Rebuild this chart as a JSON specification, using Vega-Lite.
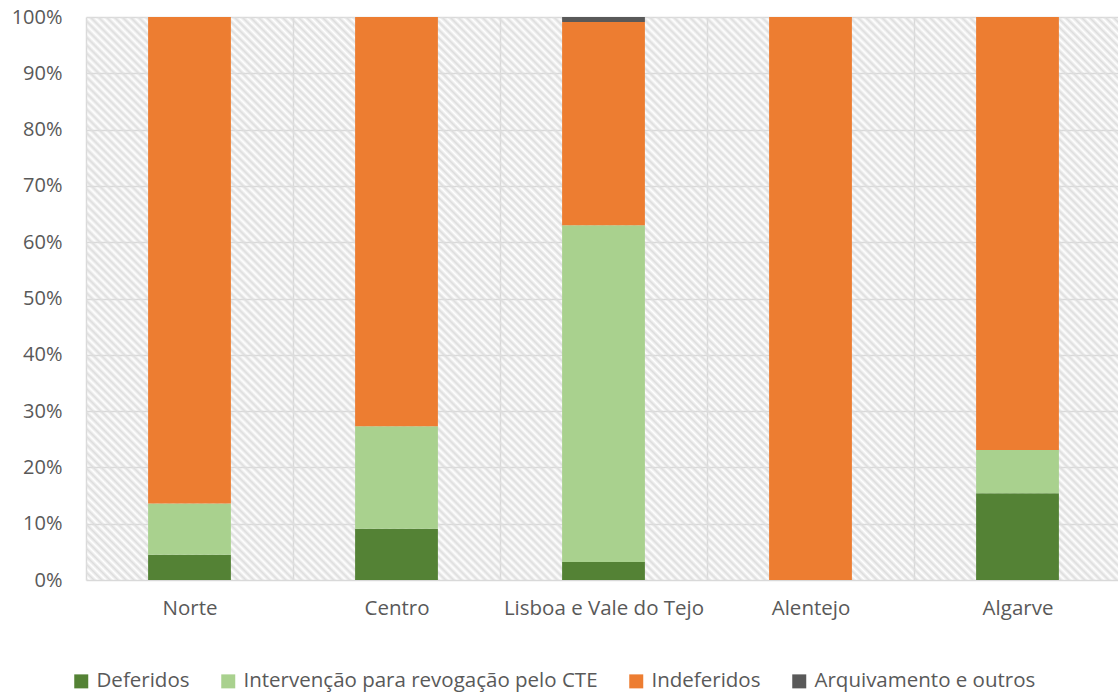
{
  "$schema": "https://vega.github.io/schema/vega-lite/v6.json",
  "width": 1035,
  "height": 563,
  "autosize": "none",
  "padding": {"left": 86, "top": 17, "right": 0, "bottom": 115},
  "background": "white",
  "config": {"view": {"stroke": null}, "font": "Open Sans"},
  "layer": [
    {
      "data": {"values": [{}]},
      "mark": {
        "type": "rect",
        "fill": {
          "gradient": "linear",
          "x1": 0, "y1": 1, "x2": 1.19143, "y2": 0.35191,
          "stops": [
{"offset":0,"color":"#dddddd"},{"offset":0.0025,"color":"rgba(221,221,221,0)"},{"offset":0.005,"color":"#dddddd"},{"offset":0.0075,"color":"rgba(221,221,221,0)"},
{"offset":0.01,"color":"#dddddd"},{"offset":0.0125,"color":"rgba(221,221,221,0)"},{"offset":0.015,"color":"#dddddd"},{"offset":0.0175,"color":"rgba(221,221,221,0)"},
{"offset":0.02,"color":"#dddddd"},{"offset":0.0225,"color":"rgba(221,221,221,0)"},{"offset":0.025,"color":"#dddddd"},{"offset":0.0275,"color":"rgba(221,221,221,0)"},
{"offset":0.03,"color":"#dddddd"},{"offset":0.0325,"color":"rgba(221,221,221,0)"},{"offset":0.035,"color":"#dddddd"},{"offset":0.0375,"color":"rgba(221,221,221,0)"},
{"offset":0.04,"color":"#dddddd"},{"offset":0.0425,"color":"rgba(221,221,221,0)"},{"offset":0.045,"color":"#dddddd"},{"offset":0.0475,"color":"rgba(221,221,221,0)"},
{"offset":0.05,"color":"#dddddd"},{"offset":0.0525,"color":"rgba(221,221,221,0)"},{"offset":0.055,"color":"#dddddd"},{"offset":0.0575,"color":"rgba(221,221,221,0)"},
{"offset":0.06,"color":"#dddddd"},{"offset":0.0625,"color":"rgba(221,221,221,0)"},{"offset":0.065,"color":"#dddddd"},{"offset":0.0675,"color":"rgba(221,221,221,0)"},
{"offset":0.07,"color":"#dddddd"},{"offset":0.0725,"color":"rgba(221,221,221,0)"},{"offset":0.075,"color":"#dddddd"},{"offset":0.0775,"color":"rgba(221,221,221,0)"},
{"offset":0.08,"color":"#dddddd"},{"offset":0.0825,"color":"rgba(221,221,221,0)"},{"offset":0.085,"color":"#dddddd"},{"offset":0.0875,"color":"rgba(221,221,221,0)"},
{"offset":0.09,"color":"#dddddd"},{"offset":0.0925,"color":"rgba(221,221,221,0)"},{"offset":0.095,"color":"#dddddd"},{"offset":0.0975,"color":"rgba(221,221,221,0)"},
{"offset":0.1,"color":"#dddddd"},{"offset":0.1025,"color":"rgba(221,221,221,0)"},{"offset":0.105,"color":"#dddddd"},{"offset":0.1075,"color":"rgba(221,221,221,0)"},
{"offset":0.11,"color":"#dddddd"},{"offset":0.1125,"color":"rgba(221,221,221,0)"},{"offset":0.115,"color":"#dddddd"},{"offset":0.1175,"color":"rgba(221,221,221,0)"},
{"offset":0.12,"color":"#dddddd"},{"offset":0.1225,"color":"rgba(221,221,221,0)"},{"offset":0.125,"color":"#dddddd"},{"offset":0.1275,"color":"rgba(221,221,221,0)"},
{"offset":0.13,"color":"#dddddd"},{"offset":0.1325,"color":"rgba(221,221,221,0)"},{"offset":0.135,"color":"#dddddd"},{"offset":0.1375,"color":"rgba(221,221,221,0)"},
{"offset":0.14,"color":"#dddddd"},{"offset":0.1425,"color":"rgba(221,221,221,0)"},{"offset":0.145,"color":"#dddddd"},{"offset":0.1475,"color":"rgba(221,221,221,0)"},
{"offset":0.15,"color":"#dddddd"},{"offset":0.1525,"color":"rgba(221,221,221,0)"},{"offset":0.155,"color":"#dddddd"},{"offset":0.1575,"color":"rgba(221,221,221,0)"},
{"offset":0.16,"color":"#dddddd"},{"offset":0.1625,"color":"rgba(221,221,221,0)"},{"offset":0.165,"color":"#dddddd"},{"offset":0.1675,"color":"rgba(221,221,221,0)"},
{"offset":0.17,"color":"#dddddd"},{"offset":0.1725,"color":"rgba(221,221,221,0)"},{"offset":0.175,"color":"#dddddd"},{"offset":0.1775,"color":"rgba(221,221,221,0)"},
{"offset":0.18,"color":"#dddddd"},{"offset":0.1825,"color":"rgba(221,221,221,0)"},{"offset":0.185,"color":"#dddddd"},{"offset":0.1875,"color":"rgba(221,221,221,0)"},
{"offset":0.19,"color":"#dddddd"},{"offset":0.1925,"color":"rgba(221,221,221,0)"},{"offset":0.195,"color":"#dddddd"},{"offset":0.1975,"color":"rgba(221,221,221,0)"},
{"offset":0.2,"color":"#dddddd"},{"offset":0.2025,"color":"rgba(221,221,221,0)"},{"offset":0.205,"color":"#dddddd"},{"offset":0.2075,"color":"rgba(221,221,221,0)"},
{"offset":0.21,"color":"#dddddd"},{"offset":0.2125,"color":"rgba(221,221,221,0)"},{"offset":0.215,"color":"#dddddd"},{"offset":0.2175,"color":"rgba(221,221,221,0)"},
{"offset":0.22,"color":"#dddddd"},{"offset":0.2225,"color":"rgba(221,221,221,0)"},{"offset":0.225,"color":"#dddddd"},{"offset":0.2275,"color":"rgba(221,221,221,0)"},
{"offset":0.23,"color":"#dddddd"},{"offset":0.2325,"color":"rgba(221,221,221,0)"},{"offset":0.235,"color":"#dddddd"},{"offset":0.2375,"color":"rgba(221,221,221,0)"},
{"offset":0.24,"color":"#dddddd"},{"offset":0.2425,"color":"rgba(221,221,221,0)"},{"offset":0.245,"color":"#dddddd"},{"offset":0.2475,"color":"rgba(221,221,221,0)"},
{"offset":0.25,"color":"#dddddd"},{"offset":0.2525,"color":"rgba(221,221,221,0)"},{"offset":0.255,"color":"#dddddd"},{"offset":0.2575,"color":"rgba(221,221,221,0)"},
{"offset":0.26,"color":"#dddddd"},{"offset":0.2625,"color":"rgba(221,221,221,0)"},{"offset":0.265,"color":"#dddddd"},{"offset":0.2675,"color":"rgba(221,221,221,0)"},
{"offset":0.27,"color":"#dddddd"},{"offset":0.2725,"color":"rgba(221,221,221,0)"},{"offset":0.275,"color":"#dddddd"},{"offset":0.2775,"color":"rgba(221,221,221,0)"},
{"offset":0.28,"color":"#dddddd"},{"offset":0.2825,"color":"rgba(221,221,221,0)"},{"offset":0.285,"color":"#dddddd"},{"offset":0.2875,"color":"rgba(221,221,221,0)"},
{"offset":0.29,"color":"#dddddd"},{"offset":0.2925,"color":"rgba(221,221,221,0)"},{"offset":0.295,"color":"#dddddd"},{"offset":0.2975,"color":"rgba(221,221,221,0)"},
{"offset":0.3,"color":"#dddddd"},{"offset":0.3025,"color":"rgba(221,221,221,0)"},{"offset":0.305,"color":"#dddddd"},{"offset":0.3075,"color":"rgba(221,221,221,0)"},
{"offset":0.31,"color":"#dddddd"},{"offset":0.3125,"color":"rgba(221,221,221,0)"},{"offset":0.315,"color":"#dddddd"},{"offset":0.3175,"color":"rgba(221,221,221,0)"},
{"offset":0.32,"color":"#dddddd"},{"offset":0.3225,"color":"rgba(221,221,221,0)"},{"offset":0.325,"color":"#dddddd"},{"offset":0.3275,"color":"rgba(221,221,221,0)"},
{"offset":0.33,"color":"#dddddd"},{"offset":0.3325,"color":"rgba(221,221,221,0)"},{"offset":0.335,"color":"#dddddd"},{"offset":0.3375,"color":"rgba(221,221,221,0)"},
{"offset":0.34,"color":"#dddddd"},{"offset":0.3425,"color":"rgba(221,221,221,0)"},{"offset":0.345,"color":"#dddddd"},{"offset":0.3475,"color":"rgba(221,221,221,0)"},
{"offset":0.35,"color":"#dddddd"},{"offset":0.3525,"color":"rgba(221,221,221,0)"},{"offset":0.355,"color":"#dddddd"},{"offset":0.3575,"color":"rgba(221,221,221,0)"},
{"offset":0.36,"color":"#dddddd"},{"offset":0.3625,"color":"rgba(221,221,221,0)"},{"offset":0.365,"color":"#dddddd"},{"offset":0.3675,"color":"rgba(221,221,221,0)"},
{"offset":0.37,"color":"#dddddd"},{"offset":0.3725,"color":"rgba(221,221,221,0)"},{"offset":0.375,"color":"#dddddd"},{"offset":0.3775,"color":"rgba(221,221,221,0)"},
{"offset":0.38,"color":"#dddddd"},{"offset":0.3825,"color":"rgba(221,221,221,0)"},{"offset":0.385,"color":"#dddddd"},{"offset":0.3875,"color":"rgba(221,221,221,0)"},
{"offset":0.39,"color":"#dddddd"},{"offset":0.3925,"color":"rgba(221,221,221,0)"},{"offset":0.395,"color":"#dddddd"},{"offset":0.3975,"color":"rgba(221,221,221,0)"},
{"offset":0.4,"color":"#dddddd"},{"offset":0.4025,"color":"rgba(221,221,221,0)"},{"offset":0.405,"color":"#dddddd"},{"offset":0.4075,"color":"rgba(221,221,221,0)"},
{"offset":0.41,"color":"#dddddd"},{"offset":0.4125,"color":"rgba(221,221,221,0)"},{"offset":0.415,"color":"#dddddd"},{"offset":0.4175,"color":"rgba(221,221,221,0)"},
{"offset":0.42,"color":"#dddddd"},{"offset":0.4225,"color":"rgba(221,221,221,0)"},{"offset":0.425,"color":"#dddddd"},{"offset":0.4275,"color":"rgba(221,221,221,0)"},
{"offset":0.43,"color":"#dddddd"},{"offset":0.4325,"color":"rgba(221,221,221,0)"},{"offset":0.435,"color":"#dddddd"},{"offset":0.4375,"color":"rgba(221,221,221,0)"},
{"offset":0.44,"color":"#dddddd"},{"offset":0.4425,"color":"rgba(221,221,221,0)"},{"offset":0.445,"color":"#dddddd"},{"offset":0.4475,"color":"rgba(221,221,221,0)"},
{"offset":0.45,"color":"#dddddd"},{"offset":0.4525,"color":"rgba(221,221,221,0)"},{"offset":0.455,"color":"#dddddd"},{"offset":0.4575,"color":"rgba(221,221,221,0)"},
{"offset":0.46,"color":"#dddddd"},{"offset":0.4625,"color":"rgba(221,221,221,0)"},{"offset":0.465,"color":"#dddddd"},{"offset":0.4675,"color":"rgba(221,221,221,0)"},
{"offset":0.47,"color":"#dddddd"},{"offset":0.4725,"color":"rgba(221,221,221,0)"},{"offset":0.475,"color":"#dddddd"},{"offset":0.4775,"color":"rgba(221,221,221,0)"},
{"offset":0.48,"color":"#dddddd"},{"offset":0.4825,"color":"rgba(221,221,221,0)"},{"offset":0.485,"color":"#dddddd"},{"offset":0.4875,"color":"rgba(221,221,221,0)"},
{"offset":0.49,"color":"#dddddd"},{"offset":0.4925,"color":"rgba(221,221,221,0)"},{"offset":0.495,"color":"#dddddd"},{"offset":0.4975,"color":"rgba(221,221,221,0)"},
{"offset":0.5,"color":"#dddddd"},{"offset":0.5025,"color":"rgba(221,221,221,0)"},{"offset":0.505,"color":"#dddddd"},{"offset":0.5075,"color":"rgba(221,221,221,0)"},
{"offset":0.51,"color":"#dddddd"},{"offset":0.5125,"color":"rgba(221,221,221,0)"},{"offset":0.515,"color":"#dddddd"},{"offset":0.5175,"color":"rgba(221,221,221,0)"},
{"offset":0.52,"color":"#dddddd"},{"offset":0.5225,"color":"rgba(221,221,221,0)"},{"offset":0.525,"color":"#dddddd"},{"offset":0.5275,"color":"rgba(221,221,221,0)"},
{"offset":0.53,"color":"#dddddd"},{"offset":0.5325,"color":"rgba(221,221,221,0)"},{"offset":0.535,"color":"#dddddd"},{"offset":0.5375,"color":"rgba(221,221,221,0)"},
{"offset":0.54,"color":"#dddddd"},{"offset":0.5425,"color":"rgba(221,221,221,0)"},{"offset":0.545,"color":"#dddddd"},{"offset":0.5475,"color":"rgba(221,221,221,0)"},
{"offset":0.55,"color":"#dddddd"},{"offset":0.5525,"color":"rgba(221,221,221,0)"},{"offset":0.555,"color":"#dddddd"},{"offset":0.5575,"color":"rgba(221,221,221,0)"},
{"offset":0.56,"color":"#dddddd"},{"offset":0.5625,"color":"rgba(221,221,221,0)"},{"offset":0.565,"color":"#dddddd"},{"offset":0.5675,"color":"rgba(221,221,221,0)"},
{"offset":0.57,"color":"#dddddd"},{"offset":0.5725,"color":"rgba(221,221,221,0)"},{"offset":0.575,"color":"#dddddd"},{"offset":0.5775,"color":"rgba(221,221,221,0)"},
{"offset":0.58,"color":"#dddddd"},{"offset":0.5825,"color":"rgba(221,221,221,0)"},{"offset":0.585,"color":"#dddddd"},{"offset":0.5875,"color":"rgba(221,221,221,0)"},
{"offset":0.59,"color":"#dddddd"},{"offset":0.5925,"color":"rgba(221,221,221,0)"},{"offset":0.595,"color":"#dddddd"},{"offset":0.5975,"color":"rgba(221,221,221,0)"},
{"offset":0.6,"color":"#dddddd"},{"offset":0.6025,"color":"rgba(221,221,221,0)"},{"offset":0.605,"color":"#dddddd"},{"offset":0.6075,"color":"rgba(221,221,221,0)"},
{"offset":0.61,"color":"#dddddd"},{"offset":0.6125,"color":"rgba(221,221,221,0)"},{"offset":0.615,"color":"#dddddd"},{"offset":0.6175,"color":"rgba(221,221,221,0)"},
{"offset":0.62,"color":"#dddddd"},{"offset":0.6225,"color":"rgba(221,221,221,0)"},{"offset":0.625,"color":"#dddddd"},{"offset":0.6275,"color":"rgba(221,221,221,0)"},
{"offset":0.63,"color":"#dddddd"},{"offset":0.6325,"color":"rgba(221,221,221,0)"},{"offset":0.635,"color":"#dddddd"},{"offset":0.6375,"color":"rgba(221,221,221,0)"},
{"offset":0.64,"color":"#dddddd"},{"offset":0.6425,"color":"rgba(221,221,221,0)"},{"offset":0.645,"color":"#dddddd"},{"offset":0.6475,"color":"rgba(221,221,221,0)"},
{"offset":0.65,"color":"#dddddd"},{"offset":0.6525,"color":"rgba(221,221,221,0)"},{"offset":0.655,"color":"#dddddd"},{"offset":0.6575,"color":"rgba(221,221,221,0)"},
{"offset":0.66,"color":"#dddddd"},{"offset":0.6625,"color":"rgba(221,221,221,0)"},{"offset":0.665,"color":"#dddddd"},{"offset":0.6675,"color":"rgba(221,221,221,0)"},
{"offset":0.67,"color":"#dddddd"},{"offset":0.6725,"color":"rgba(221,221,221,0)"},{"offset":0.675,"color":"#dddddd"},{"offset":0.6775,"color":"rgba(221,221,221,0)"},
{"offset":0.68,"color":"#dddddd"},{"offset":0.6825,"color":"rgba(221,221,221,0)"},{"offset":0.685,"color":"#dddddd"},{"offset":0.6875,"color":"rgba(221,221,221,0)"},
{"offset":0.69,"color":"#dddddd"},{"offset":0.6925,"color":"rgba(221,221,221,0)"},{"offset":0.695,"color":"#dddddd"},{"offset":0.6975,"color":"rgba(221,221,221,0)"},
{"offset":0.7,"color":"#dddddd"},{"offset":0.7025,"color":"rgba(221,221,221,0)"},{"offset":0.705,"color":"#dddddd"},{"offset":0.7075,"color":"rgba(221,221,221,0)"},
{"offset":0.71,"color":"#dddddd"},{"offset":0.7125,"color":"rgba(221,221,221,0)"},{"offset":0.715,"color":"#dddddd"},{"offset":0.7175,"color":"rgba(221,221,221,0)"},
{"offset":0.72,"color":"#dddddd"},{"offset":0.7225,"color":"rgba(221,221,221,0)"},{"offset":0.725,"color":"#dddddd"},{"offset":0.7275,"color":"rgba(221,221,221,0)"},
{"offset":0.73,"color":"#dddddd"},{"offset":0.7325,"color":"rgba(221,221,221,0)"},{"offset":0.735,"color":"#dddddd"},{"offset":0.7375,"color":"rgba(221,221,221,0)"},
{"offset":0.74,"color":"#dddddd"},{"offset":0.7425,"color":"rgba(221,221,221,0)"},{"offset":0.745,"color":"#dddddd"},{"offset":0.7475,"color":"rgba(221,221,221,0)"},
{"offset":0.75,"color":"#dddddd"},{"offset":0.7525,"color":"rgba(221,221,221,0)"},{"offset":0.755,"color":"#dddddd"},{"offset":0.7575,"color":"rgba(221,221,221,0)"},
{"offset":0.76,"color":"#dddddd"},{"offset":0.7625,"color":"rgba(221,221,221,0)"},{"offset":0.765,"color":"#dddddd"},{"offset":0.7675,"color":"rgba(221,221,221,0)"},
{"offset":0.77,"color":"#dddddd"},{"offset":0.7725,"color":"rgba(221,221,221,0)"},{"offset":0.775,"color":"#dddddd"},{"offset":0.7775,"color":"rgba(221,221,221,0)"},
{"offset":0.78,"color":"#dddddd"},{"offset":0.7825,"color":"rgba(221,221,221,0)"},{"offset":0.785,"color":"#dddddd"},{"offset":0.7875,"color":"rgba(221,221,221,0)"},
{"offset":0.79,"color":"#dddddd"},{"offset":0.7925,"color":"rgba(221,221,221,0)"},{"offset":0.795,"color":"#dddddd"},{"offset":0.7975,"color":"rgba(221,221,221,0)"},
{"offset":0.8,"color":"#dddddd"},{"offset":0.8025,"color":"rgba(221,221,221,0)"},{"offset":0.805,"color":"#dddddd"},{"offset":0.8075,"color":"rgba(221,221,221,0)"},
{"offset":0.81,"color":"#dddddd"},{"offset":0.8125,"color":"rgba(221,221,221,0)"},{"offset":0.815,"color":"#dddddd"},{"offset":0.8175,"color":"rgba(221,221,221,0)"},
{"offset":0.82,"color":"#dddddd"},{"offset":0.8225,"color":"rgba(221,221,221,0)"},{"offset":0.825,"color":"#dddddd"},{"offset":0.8275,"color":"rgba(221,221,221,0)"},
{"offset":0.83,"color":"#dddddd"},{"offset":0.8325,"color":"rgba(221,221,221,0)"},{"offset":0.835,"color":"#dddddd"},{"offset":0.8375,"color":"rgba(221,221,221,0)"},
{"offset":0.84,"color":"#dddddd"},{"offset":0.8425,"color":"rgba(221,221,221,0)"},{"offset":0.845,"color":"#dddddd"},{"offset":0.8475,"color":"rgba(221,221,221,0)"},
{"offset":0.85,"color":"#dddddd"},{"offset":0.8525,"color":"rgba(221,221,221,0)"},{"offset":0.855,"color":"#dddddd"},{"offset":0.8575,"color":"rgba(221,221,221,0)"},
{"offset":0.86,"color":"#dddddd"},{"offset":0.8625,"color":"rgba(221,221,221,0)"},{"offset":0.865,"color":"#dddddd"},{"offset":0.8675,"color":"rgba(221,221,221,0)"},
{"offset":0.87,"color":"#dddddd"},{"offset":0.8725,"color":"rgba(221,221,221,0)"},{"offset":0.875,"color":"#dddddd"},{"offset":0.8775,"color":"rgba(221,221,221,0)"},
{"offset":0.88,"color":"#dddddd"},{"offset":0.8825,"color":"rgba(221,221,221,0)"},{"offset":0.885,"color":"#dddddd"},{"offset":0.8875,"color":"rgba(221,221,221,0)"},
{"offset":0.89,"color":"#dddddd"},{"offset":0.8925,"color":"rgba(221,221,221,0)"},{"offset":0.895,"color":"#dddddd"},{"offset":0.8975,"color":"rgba(221,221,221,0)"},
{"offset":0.9,"color":"#dddddd"},{"offset":0.9025,"color":"rgba(221,221,221,0)"},{"offset":0.905,"color":"#dddddd"},{"offset":0.9075,"color":"rgba(221,221,221,0)"},
{"offset":0.91,"color":"#dddddd"},{"offset":0.9125,"color":"rgba(221,221,221,0)"},{"offset":0.915,"color":"#dddddd"},{"offset":0.9175,"color":"rgba(221,221,221,0)"},
{"offset":0.92,"color":"#dddddd"},{"offset":0.9225,"color":"rgba(221,221,221,0)"},{"offset":0.925,"color":"#dddddd"},{"offset":0.9275,"color":"rgba(221,221,221,0)"},
{"offset":0.93,"color":"#dddddd"},{"offset":0.9325,"color":"rgba(221,221,221,0)"},{"offset":0.935,"color":"#dddddd"},{"offset":0.9375,"color":"rgba(221,221,221,0)"},
{"offset":0.94,"color":"#dddddd"},{"offset":0.9425,"color":"rgba(221,221,221,0)"},{"offset":0.945,"color":"#dddddd"},{"offset":0.9475,"color":"rgba(221,221,221,0)"},
{"offset":0.95,"color":"#dddddd"},{"offset":0.9525,"color":"rgba(221,221,221,0)"},{"offset":0.955,"color":"#dddddd"},{"offset":0.9575,"color":"rgba(221,221,221,0)"},
{"offset":0.96,"color":"#dddddd"},{"offset":0.9625,"color":"rgba(221,221,221,0)"},{"offset":0.965,"color":"#dddddd"},{"offset":0.9675,"color":"rgba(221,221,221,0)"},
{"offset":0.97,"color":"#dddddd"},{"offset":0.9725,"color":"rgba(221,221,221,0)"},{"offset":0.975,"color":"#dddddd"},{"offset":0.9775,"color":"rgba(221,221,221,0)"},
{"offset":0.98,"color":"#dddddd"},{"offset":0.9825,"color":"rgba(221,221,221,0)"},{"offset":0.985,"color":"#dddddd"},{"offset":0.9875,"color":"rgba(221,221,221,0)"},
{"offset":0.99,"color":"#dddddd"},{"offset":0.9925,"color":"rgba(221,221,221,0)"},{"offset":0.995,"color":"#dddddd"},{"offset":0.9975,"color":"rgba(221,221,221,0)"},
{"offset":1,"color":"#dddddd"}
          ]
        }
      }
    },
    {
      "data": {
        "values": [
          {"regiao": "Norte", "tipo": "Deferidos", "ordem": 1, "valor": 4.5},
          {"regiao": "Norte", "tipo": "Intervenção para revogação pelo CTE", "ordem": 2, "valor": 9.1},
          {"regiao": "Norte", "tipo": "Indeferidos", "ordem": 3, "valor": 86.4},
          {"regiao": "Norte", "tipo": "Arquivamento e outros", "ordem": 4, "valor": 0},
          {"regiao": "Centro", "tipo": "Deferidos", "ordem": 1, "valor": 9.1},
          {"regiao": "Centro", "tipo": "Intervenção para revogação pelo CTE", "ordem": 2, "valor": 18.2},
          {"regiao": "Centro", "tipo": "Indeferidos", "ordem": 3, "valor": 72.7},
          {"regiao": "Centro", "tipo": "Arquivamento e outros", "ordem": 4, "valor": 0},
          {"regiao": "Lisboa e Vale do Tejo", "tipo": "Deferidos", "ordem": 1, "valor": 3.2},
          {"regiao": "Lisboa e Vale do Tejo", "tipo": "Intervenção para revogação pelo CTE", "ordem": 2, "valor": 59.8},
          {"regiao": "Lisboa e Vale do Tejo", "tipo": "Indeferidos", "ordem": 3, "valor": 36.1},
          {"regiao": "Lisboa e Vale do Tejo", "tipo": "Arquivamento e outros", "ordem": 4, "valor": 0.9},
          {"regiao": "Alentejo", "tipo": "Deferidos", "ordem": 1, "valor": 0},
          {"regiao": "Alentejo", "tipo": "Intervenção para revogação pelo CTE", "ordem": 2, "valor": 0},
          {"regiao": "Alentejo", "tipo": "Indeferidos", "ordem": 3, "valor": 100},
          {"regiao": "Alentejo", "tipo": "Arquivamento e outros", "ordem": 4, "valor": 0},
          {"regiao": "Algarve", "tipo": "Deferidos", "ordem": 1, "valor": 15.4},
          {"regiao": "Algarve", "tipo": "Intervenção para revogação pelo CTE", "ordem": 2, "valor": 7.7},
          {"regiao": "Algarve", "tipo": "Indeferidos", "ordem": 3, "valor": 76.9},
          {"regiao": "Algarve", "tipo": "Arquivamento e outros", "ordem": 4, "valor": 0}
        ]
      },
      "mark": {"type": "bar", "width": {"band": 0.4}},
      "encoding": {
        "x": {
          "field": "regiao", "type": "nominal",
          "sort": ["Norte", "Centro", "Lisboa e Vale do Tejo", "Alentejo", "Algarve"],
          "scale": {"paddingInner": 0, "paddingOuter": 0},
          "axis": {
            "title": null, "tickBand": "extent", "domain": false, "ticks": false, "tickSize": 0,
            "labelAngle": 0, "labelFontSize": 20.5, "labelColor": "#595959", "labelPadding": 18,
            "labelLimit": 400, "grid": true, "gridColor": "#d9d9d9", "gridWidth": 1.5, "labelFont": "Open Sans"
          }
        },
        "y": {
          "field": "valor", "type": "quantitative", "stack": "normalize",
          "scale": {"domain": [0, 1]},
          "axis": {
            "title": null, "format": ".0%", "values": [0, 0.1, 0.2, 0.3, 0.4, 0.5, 0.6, 0.7, 0.8, 0.9, 1],
            "domain": false, "ticks": false, "tickSize": 0, "labelPadding": 24,
            "labelFontSize": 20, "labelColor": "#595959", "labelFont": "Open Sans",
            "grid": true, "gridColor": "#d9d9d9", "gridWidth": 1.5
          }
        },
        "color": {
          "field": "tipo", "type": "nominal",
          "scale": {
            "domain": ["Deferidos", "Intervenção para revogação pelo CTE", "Indeferidos", "Arquivamento e outros"],
            "range": ["#548235", "#a9d18e", "#ed7d31", "#595959"]
          },
          "legend": {
            "title": null, "orient": "none", "legendX": -15, "legendY": 654,
            "direction": "horizontal", "columns": 4, "symbolType": "square", "symbolSize": 196,
            "symbolStrokeWidth": 0, "labelFontSize": 20.5, "labelColor": "#595959", "labelFont": "Open Sans",
            "columnPadding": 28, "labelOffset": 5, "labelLimit": 500, "padding": 0
          }
        },
        "order": {"field": "ordem", "type": "quantitative"}
      }
    }
  ]
}
